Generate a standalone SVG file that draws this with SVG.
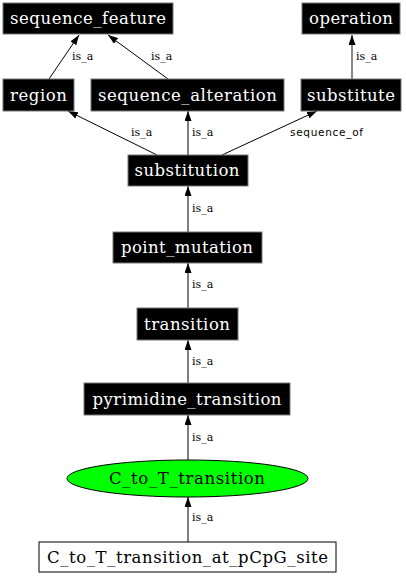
<svg xmlns="http://www.w3.org/2000/svg" width="406" height="576" viewBox="0 0 406 576">
<style>
.bx{fill:#000;stroke:#777;stroke-width:1}
.nt{font-family:"DejaVu Serif",serif;font-size:16.5px;fill:#fff;text-anchor:middle}
.nb{font-family:"DejaVu Serif",serif;font-size:16.5px;fill:#000;text-anchor:middle}
.e{stroke:#000;stroke-width:1;fill:none;marker-end:url(#ah)}
.g{stroke:#888;stroke-width:2;fill:none;marker-end:url(#ahg)}
.el{font-family:"DejaVu Serif",serif;font-size:11px;fill:#000}
.em{font-family:"DejaVu Sans",sans-serif;font-size:10.5px;fill:#000}
</style>
<defs>
<marker id="ah" viewBox="0 0 10 7" refX="10" refY="3.5" markerWidth="10" markerHeight="7" markerUnits="userSpaceOnUse" orient="auto"><path d="M0,0L10,3.5L0,7z" fill="#000"/></marker>
<marker id="ahg" viewBox="0 0 10 7" refX="10" refY="3.5" markerWidth="10" markerHeight="7" markerUnits="userSpaceOnUse" orient="auto"><path d="M0,0L10,3.5L0,7z" fill="#000"/></marker>
</defs>
<rect width="406" height="576" fill="#fff"/>
<g id="connectors">
<line class="e" x1="49" y1="79" x2="79" y2="35"/>
<text class="el" x="72" y="60">is_a</text>
<line class="e" x1="168" y1="79" x2="108" y2="35"/>
<text class="el" x="151" y="60">is_a</text>
<line class="g" x1="352" y1="79" x2="352" y2="35"/>
<text class="el" x="356" y="60">is_a</text>
<line class="e" x1="157" y1="155" x2="68" y2="111"/>
<text class="el" x="131" y="136">is_a</text>
<line class="e" x1="188" y1="155" x2="188" y2="111"/>
<text class="el" x="192" y="136">is_a</text>
<line class="e" x1="222" y1="155" x2="317" y2="111"/>
<text class="em" x="290" y="136" textLength="73">sequence_of</text>
<line class="e" x1="188" y1="232" x2="188" y2="186"/>
<text class="el" x="192" y="212">is_a</text>
<line class="e" x1="188" y1="308" x2="188" y2="263"/>
<text class="el" x="192" y="288">is_a</text>
<line class="e" x1="188" y1="383" x2="188" y2="340"/>
<text class="el" x="192" y="365">is_a</text>
<line class="e" x1="188" y1="460" x2="188" y2="415"/>
<text class="el" x="192" y="441">is_a</text>
<line class="e" x1="188" y1="542" x2="188" y2="497"/>
<text class="el" x="192" y="521">is_a</text>
</g>
<g id="sequence_feature"><rect class="bx" x="3" y="3" width="170" height="31"/><text class="nt" x="88" y="24" textLength="156">sequence_feature</text></g>
<g id="operation"><rect class="bx" x="302" y="3" width="98" height="31"/><text class="nt" x="351" y="24" textLength="84">operation</text></g>
<g id="region"><rect class="bx" x="3" y="79" width="71" height="32"/><text class="nt" x="38.5" y="100.5" textLength="57">region</text></g>
<g id="sequence_alteration"><rect class="bx" x="91" y="79" width="193" height="32"/><text class="nt" x="187.5" y="100.5" textLength="179">sequence_alteration</text></g>
<g id="substitute"><rect class="bx" x="301" y="79" width="100" height="32"/><text class="nt" x="351" y="100.5" textLength="88">substitute</text></g>
<g id="substitution"><rect class="bx" x="128" y="155" width="120" height="31"/><text class="nt" x="187" y="176" textLength="105">substitution</text></g>
<g id="point_mutation"><rect class="bx" x="113" y="232" width="149" height="31"/><text class="nt" x="187" y="253" textLength="132">point_mutation</text></g>
<g id="transition"><rect class="bx" x="137" y="308" width="101" height="32"/><text class="nt" x="187" y="329.5" textLength="86">transition</text></g>
<g id="pyrimidine_transition"><rect class="bx" x="84" y="383" width="206" height="32"/><text class="nt" x="187" y="404.5" textLength="189">pyrimidine_transition</text></g>
<g id="C_to_T_transition"><ellipse cx="187.5" cy="478.5" rx="120.5" ry="18.5" fill="#0f0" stroke="#000"/><text class="nb" x="187" y="484" textLength="156">C_to_T_transition</text></g>
<g id="C_to_T_transition_at_pCpG_site"><rect x="39" y="542" width="297" height="30" fill="#fff" stroke="#000"/><text class="nb" x="187.5" y="563" textLength="281">C_to_T_transition_at_pCpG_site</text></g>
</svg>
